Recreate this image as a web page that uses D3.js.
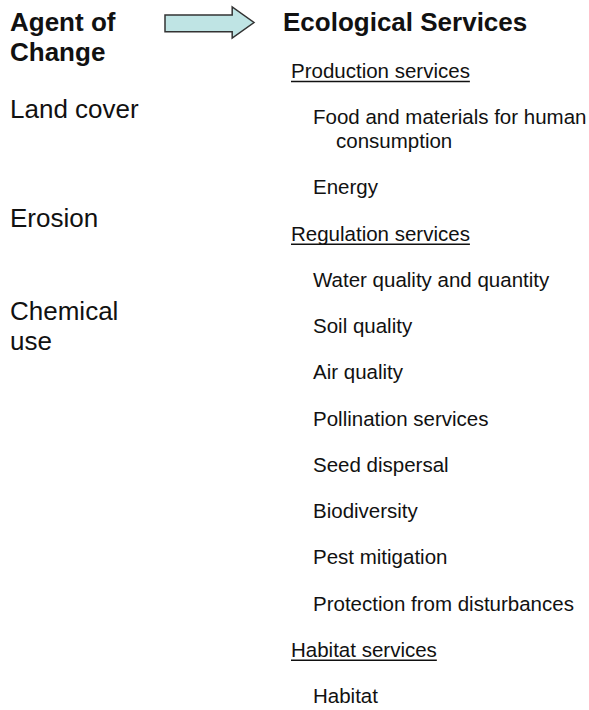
<!DOCTYPE html>
<html>
<head>
<meta charset="utf-8">
<script src="https://cdn.jsdelivr.net/npm/d3@7"></script>
<style>
  html, body { margin: 0; padding: 0; background: #fff; }
  svg { display: block; }
  text { font-family: "Liberation Sans", Arial, Helvetica, sans-serif; fill: #111; }
</style>
</head>
<body>
<svg id="chart" width="589" height="710"></svg>
<script>
// ---- data ----
const leftTitle = ["Agent of", "Change"];
const rightTitle = "Ecological Services";
const agents = [["Land cover"], ["Erosion"], ["Chemical", "use"]];
const serviceGroups = ["Production services", "Regulation services", "Habitat services"];
const productionServices = [["Food and materials for human", "consumption"], ["Energy"]];
const regulationServices = [["Water quality and quantity"], ["Soil quality"], ["Air quality"],
  ["Pollination services"], ["Seed dispersal"], ["Biodiversity"], ["Pest mitigation"],
  ["Protection from disturbances"]];
const habitatServices = [["Habitat"]];

// ---- layout ----
const svg = d3.select("#chart");
const W = 589, H = 710;

const groupItems = [productionServices, regulationServices, habitatServices];
const rows = [];
let unit = 0;
const wrapUnits = 0.52;
serviceGroups.forEach((g, gi) => {
  rows.push({ kind: "group", lines: [g], u: unit });
  unit += 1;
  groupItems[gi].forEach(item => {
    rows.push({ kind: "item", lines: item, u: unit });
    unit += 1 + (item.length - 1) * wrapUnits;
  });
});
const lastU = rows[rows.length - 1].u;
const y = d3.scaleLinear().domain([0, lastU]).range([78, 703]);
const lineStep = y(wrapUnits) - y(0);

// Titles
svg.selectAll("text.ltitle").data(leftTitle).join("text")
  .attr("class", "ltitle")
  .attr("x", 10).attr("y", (d, i) => 31 + i * 30)
  .style("font-size", "26px").style("font-weight", "bold")
  .text(d => d);

svg.append("text")
  .attr("x", 283).attr("y", 31)
  .style("font-size", "26px").style("font-weight", "bold")
  .text(rightTitle);

// Arrow
const ax = d3.scaleLinear().domain([0, 1]).range([165, 254]);
const ay = d3.scaleLinear().domain([0, 1]).range([7, 38]);
const arrowPts = [[0, 0.26], [0.755, 0.26], [0.755, 0], [1, 0.5], [0.755, 1], [0.755, 0.8], [0, 0.8]];
svg.append("path")
  .attr("d", d3.line().x(d => ax(d[0])).y(d => ay(d[1])).curve(d3.curveLinearClosed)(arrowPts))
  .attr("fill", "#bfe4e4").attr("stroke", "#333").attr("stroke-width", 1.5)
  .attr("stroke-linejoin", "miter");

// Agents (left)
const agentY = d3.scaleLinear().domain([0, 1, 2]).range([118, 227, 320]);
const agentLineStep = 30;
agents.forEach((a, i) => {
  svg.append("text")
    .attr("x", 10).attr("y", agentY(i))
    .style("font-size", "26px")
    .selectAll("tspan").data(a).join("tspan")
    .attr("x", 10).attr("dy", (d, j) => j === 0 ? 0 : agentLineStep)
    .text(d => d);
});

// Right column
rows.forEach(r => {
  const isGroup = r.kind === "group";
  const x0 = isGroup ? 291 : 313;
  const t = svg.append("text")
    .attr("x", x0).attr("y", y(r.u))
    .style("font-size", "20.5px");
  t.selectAll("tspan").data(r.lines).join("tspan")
    .attr("x", (d, j) => j === 0 ? x0 : x0 + 23)
    .attr("dy", (d, j) => j === 0 ? 0 : lineStep)
    .text(d => d);
  if (isGroup) {
    const len = t.node().getComputedTextLength();
    svg.append("line")
      .attr("x1", x0).attr("x2", x0 + len)
      .attr("y1", y(r.u) + 3.5).attr("y2", y(r.u) + 3.5)
      .attr("stroke", "#111").attr("stroke-width", 1.4);
  }
});
</script>
</body>
</html>
